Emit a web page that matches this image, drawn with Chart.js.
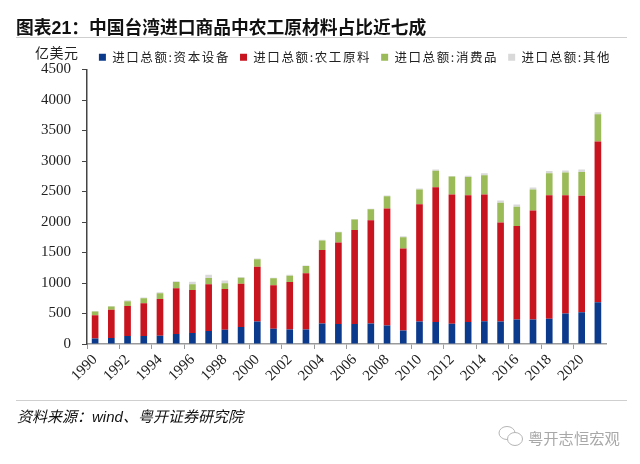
<!DOCTYPE html>
<html><head><meta charset="utf-8">
<script src="https://cdn.jsdelivr.net/npm/chart.js@4"></script>
<style>
html,body{margin:0;padding:0;background:#fff;width:640px;height:464px;overflow:hidden}
#wrap{position:relative;width:640px;height:464px}
canvas{position:absolute;left:0;top:0}
.t{position:absolute;white-space:nowrap;font-family:"Noto Sans CJK SC",sans-serif}
.l{position:absolute;height:1px;background:#cfcfcf}
</style></head><body>
<div id="wrap">
<canvas id="c" width="640" height="464"></canvas>
<div class="t" style="left:16px;top:14px;font-size:17.75px;line-height:24px;font-weight:700;color:#111">图表<span style="font-family:'Liberation Sans'">21</span>：中国台湾进口商品中农工原材料占比近七成</div>
<div class="l" style="left:16px;top:37px;width:611px"></div>
<div class="t" style="left:35px;top:43px;font-size:14px;line-height:18px;letter-spacing:0.5px;color:#222">亿美元</div>
<div class="l" style="left:16px;top:400px;width:611px"></div>
<div class="t" style="left:17px;top:406px;font-size:15px;line-height:20px;font-style:italic;color:#111">资料来源：<span style="font-family:'Liberation Sans'">wind</span>、粤开证券研究院</div>
<svg style="position:absolute;left:498px;top:425px" width="26" height="22" viewBox="0 0 26 22" fill="none" stroke="#b5b5b5" stroke-width="1"><ellipse cx="9" cy="8" rx="8" ry="6.5"/><ellipse cx="17" cy="14" rx="7.5" ry="6.5" fill="#fff"/></svg>
<div class="t" style="left:528px;top:427px;font-size:15.3px;line-height:20px;color:#a8a8a8">粤开志恒宏观</div>
</div>
<script>
const categories=[1990,1991,1992,1993,1994,1995,1996,1997,1998,1999,2000,2001,2002,2003,2004,2005,2006,2007,2008,2009,2010,2011,2012,2013,2014,2015,2016,2017,2018,2019,2020,2021].map(String);
const capitalGoods=[92,98,130,130,136,163,179,212,234,277,370,250,239,239,337,326,326,337,304,223,370,359,332,359,375,370,402,402,413,500,520,685];
const rawMaterials=[381,462,495,538,603,750,707,766,668,712,896,712,777,919,1206,1337,1544,1690,1919,1342,1923,2211,2118,2081,2075,1620,1533,1788,2027,1940,1910,2635];
const consumerGoods=[60,54,76,82,92,103,92,103,93,98,125,114,104,119,153,169,173,180,201,185,240,272,295,299,316,325,315,343,360,370,390,446];
const otherGoods=[10,11,16,11,17,11,44,55,48,11,11,11,16,11,11,10,7,10,11,16,17,18,10,21,34,38,38,32,35,35,40,34];
const seriesNames=["进口总额:资本设备","进口总额:农工原料","进口总额:消费品","进口总额:其他"];
const seriesColors=["#0B3A8C","#C8141E","#9BBB59","#D9D9D9"];
const seriesValues=[capitalGoods,rawMaterials,consumerGoods,otherGoods];

const legendSpacing={id:'legendSpacing',beforeLayout(chart){
  const lg=chart.legend; if(!lg||lg._patched) return; lg._patched=true;
  const fit=lg.fit, draw=lg.draw;
  lg.fit=function(...a){const ctx=chart.ctx;const o=ctx.letterSpacing;ctx.letterSpacing='1.6px';const r=fit.apply(this,a);ctx.letterSpacing=o;return r;};
  lg.draw=function(...a){const ctx=chart.ctx;ctx.save();ctx.letterSpacing='1.6px';ctx.translate(52,4);const r=draw.apply(this,a);ctx.restore();ctx.letterSpacing='0px';return r;};
}};

new Chart(document.getElementById('c'),{
  type:'bar',
  data:{labels:categories,datasets:seriesNames.map((n,i)=>({label:n,data:seriesValues[i],backgroundColor:seriesColors[i],borderWidth:0,stack:'s',categoryPercentage:1,barPercentage:0.41}))},
  plugins:[legendSpacing],
  options:{
    responsive:false,animation:false,devicePixelRatio:1,
    layout:{padding:{left:0,right:34,top:37,bottom:0}},
    plugins:{
      tooltip:{enabled:false},
      title:{display:false},
      legend:{display:true,position:'top',align:'center',
        labels:{boxWidth:7,boxHeight:7,padding:10,color:'#222',font:{family:'"Noto Sans CJK SC"',size:12.5}}}
    },
    scales:{
      x:{stacked:true,offset:true,
        border:{color:'#9a9a9a',width:1.5},
        grid:{offset:true,drawOnChartArea:false,drawTicks:true,tickLength:5,tickColor:c=>c.index%2===0?'#9a9a9a':'rgba(0,0,0,0)',tickWidth:1},
        ticks:{autoSkip:false,minRotation:45,maxRotation:45,padding:2,color:'#222',font:{family:'"Liberation Serif"',size:15},
          callback(v,i){return i%2===0?this.getLabelForValue(v):'';}},
        afterFit(s){s.height=120;}
      },
      y:{stacked:true,min:0,max:4500,
        border:{color:'#444',width:1.5},
        grid:{drawOnChartArea:false,drawTicks:true,tickLength:5,tickColor:'#444',tickWidth:1},
        ticks:{stepSize:500,padding:11,color:'#222',font:{family:'"Liberation Serif"',size:15},callback:v=>String(v)},
        afterFit(s){s.width=87;}
      }
    }
  }
});
</script>
</body></html>
